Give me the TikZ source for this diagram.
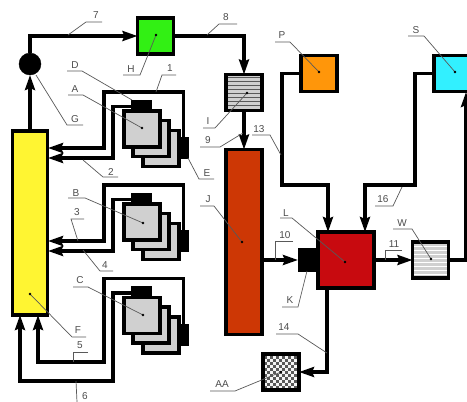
\documentclass[tikz,border=0pt]{standalone}
\usepackage{fontspec}
\setmainfont{Liberation Sans}
\usetikzlibrary{arrows.meta}
\definecolor{cyel}{RGB}{255,245,50}
\definecolor{cgrn}{RGB}{50,240,20}
\definecolor{corg}{RGB}{255,150,10}
\definecolor{ccya}{RGB}{50,240,255}
\definecolor{cred}{RGB}{200,10,15}
\definecolor{cjjj}{RGB}{205,55,5}
\definecolor{cgry}{RGB}{208,208,208}
\definecolor{cpale}{RGB}{245,245,245}
\tikzset{
  box/.style={draw=black,line width=3.4pt,inner sep=0pt,outer sep=0pt,minimum width=#1,minimum height=#1},
  box/.default=36pt,
  flow/.style={line width=3.2pt,draw=black,line join=miter},
  aflow/.style={flow,-{Stealth[length=15pt,width=10pt,inset=2pt]}},
  lead/.style={draw=black!65,line width=0.7pt},
  labeltext/.style={font=\fontsize{10}{10}\selectfont,text=black!70,inner sep=0pt},
  solid black/.style={fill=black,draw=black,inner sep=0pt,outer sep=0pt}
}
% #1 id, #2 text, #3 text pos, #4 start, #5 knee, #6 end
\newcommand{\lab}[6]{%
  \node[labeltext] (t#1) at (#3) {#2};
  \coordinate (u#1) at (#4); \coordinate (k#1) at (#5); \coordinate (e#1) at (#6);
  \draw[lead] (u#1) -- (k#1) -- (e#1);
}
\newcommand{\labd}[6]{%
  \lab{#1}{#2}{#3}{#4}{#5}{#6}
  \fill[black] (e#1) circle (1.4pt);
}
% one stack of units: #1 prefix, #2 y offset
\newcommand{\stackunit}[2]{%
  \node[box=36pt,fill=cgry] (#1back) at (161,{148.5+#2}) {};
  \node[box=36pt,fill=cgry] (#1mid) at (151,{138.5+#2}) {};
  \node[box=36pt,fill=cgry] (#1front) at (142,{129+#2}) {};
  \node[solid black,minimum width=20pt,minimum height=10pt] (#1top) at (141.5,{105+#2}) {};
  \node[solid black,minimum width=10pt,minimum height=21pt] (#1side) at (183.5,{148+#2}) {};
}
\begin{document}
\begin{tikzpicture}[x=1pt,y=-1pt]
\useasboundingbox (0,0) rectangle (467,402);
\clip (0,0) rectangle (467,402);
\fill[white] (0,0) rectangle (467,402);

% main boxes
\node[box,minimum width=35pt,minimum height=184pt,fill=cyel] (yel) at (30,223) {};
\node[circle,fill=black,draw=black,inner sep=0pt,minimum size=22pt,outer sep=0pt] (gball) at (30,64) {};
\node[box,fill=cgrn] (hbox) at (155.5,36) {};
\node[box,fill=cgry] (ibox) at (244,92.5) {};
\node[box,minimum width=36pt,minimum height=185pt,fill=cjjj] (jbox) at (244,242) {};
\node[box,fill=corg] (pbox) at (319,73.5) {};
\node[box,fill=ccya] (sbox) at (452,73.5) {};
\node[box=56pt,fill=cred] (lbox) at (346,260) {};
\node[solid black,minimum width=19pt,minimum height=23pt] (kbox) at (307.5,260) {};
\node[box,fill=cgry] (wbox) at (430.5,260) {};
\node[box,fill=cgry] (aabox) at (281,372) {};

% hatching
\foreach \yy in {77,81,...,109} \draw[black!65,line width=0.7pt] (227,\yy) -- (261,\yy);
\foreach \yy in {246,250,...,276} \draw[white,line width=1pt] (414,\yy) -- (447,\yy);
\begin{scope}
\clip (264,356) rectangle (298,389);
\fill[cpale] (264,356) rectangle (298,389);
\foreach \ii in {0,...,11} \foreach \jj in {0,...,11} {
  \pgfmathparse{int(mod(\ii+\jj,2))}
  \ifnum\pgfmathresult=0 \fill[black!65] ({264+3*\ii},{356+3*\jj}) rectangle ++(3,3); \fi
}
\end{scope}
\node[box,fill=none] at (244,92.5) {};
\node[box,fill=none] at (430.5,260) {};
\node[box,fill=none] at (281,372) {};

% stacks
\stackunit{a}{0}
\stackunit{b}{93}
\stackunit{c}{186.5}

% upper feed lines
\draw[aflow] (yel.north) -- (gball.south);
\draw[aflow] (gball.north) |- (hbox.west);
\draw[aflow] (hbox.east) -| (ibox.north);
\draw[aflow] (ibox.south) -- (jbox.north);
\draw[aflow] (jbox.east |- kbox.west) -- (kbox.west);
\draw[aflow] (lbox.east) -- (wbox.west);
\draw[aflow] (pbox.west) -- (282,73.5) -- (282,185) -- (328,185) -- (328,232);
\draw[aflow] (sbox.west) -- (415,73.5) -- (415,185) -- (365,185) -- (365,232);
\draw[aflow] (327,288) -- (327,372) -- (aabox.east);
\draw[aflow] (wbox.east) -- (466,260) -- (466,92);

% unit a
\draw[aflow] (aside.north) -- (183.5,92) -- (104,92) -- (104,148) -- (48,148);
\draw[aflow] (atop.west |- 0,106.5) -- (113,106.5) -- (113,158) -- (48,158);
% unit b
\draw[aflow] (bside.north) -- (183.5,185) -- (104,185) -- (104,241) -- (48,241);
\draw[aflow] (btop.west |- 0,199.5) -- (113,199.5) -- (113,251) -- (48,251);
% unit c
\draw[aflow] (cside.north) -- (183.5,278.5) -- (104,278.5) -- (104,362) -- (38,362) -- (38,315);
\draw[aflow] (ctop.west |- 0,293) -- (113,293) -- (113,381) -- (20,381) -- (20,315);

% leaders and labels
\lab{7}{7}{96,15}{102,22}{86,22}{68,35}
\lab{8}{8}{226,17}{237,24}{219,24}{207,35}
\lab{d}{D}{75,65}{67,71}{82,71}{132,100}
\labd{h}{H}{131,69}{123,75}{140,75}{156,35}
\lab{1}{1}{170,68}{176,75}{162,75}{156,92}
\labd{a}{A}{75,89}{68,95}{83,95}{142,128}
\lab{g}{G}{75,119}{83,125}{67,125}{36,75}
\labd{i}{I}{208,121}{203,128}{215,128}{247,93}
\lab{9}{9}{208,140}{200,147}{220,147}{243,133}
\lab{2}{2}{111,172}{118,177}{103,177}{83,160}
\lab{e}{E}{207,173}{214,179}{199,179}{188,158}
\lab{13}{13}{259,129}{252,135}{270,135}{281,155}
\labd{p}{P}{282,35}{275,42}{290,42}{319,72}
\labd{s}{S}{416,30}{408,36}{424,36}{455,72}
\lab{16}{16}{383,199}{375,206}{393,206}{402,187}
\labd{b}{B}{76,193}{68,198}{85,198}{143,223}
\lab{3}{3}{77,212}{84,219}{71,219}{78,241}
\lab{4}{4}{105,265}{113,271}{100,271}{83,250}
\labd{c}{C}{80,280}{73,287}{88,287}{143,315}
\labd{f}{F}{78,330}{86,337}{72,337}{30,294}
\lab{5}{5}{80,345}{88,352}{73,352}{73,362}
\node[labeltext] (t6) at (85,396) {6};
\coordinate (u6) at (76,381); \coordinate (e6) at (77,402);
\draw[lead] (u6) -- (e6);
\labd{aa}{AA}{222,384}{210,391}{235,391}{281,372}
\lab{14}{14}{284,327}{276,334}{298,334}{327,353}
\lab{k}{K}{290,300}{282,307}{298,307}{307,271}
\labd{l}{L}{286,213}{280,218}{292,218}{345,262}
\labd{j}{J}{208,199}{200,206}{214,206}{242,242}
\lab{10}{10}{285,235}{293,241}{275,241}{275,260}
\lab{11}{11}{394,244}{402,250}{385,250}{385,260}
\labd{w}{W}{402,223}{393,229}{412,229}{431,259}
\end{tikzpicture}
\end{document}
